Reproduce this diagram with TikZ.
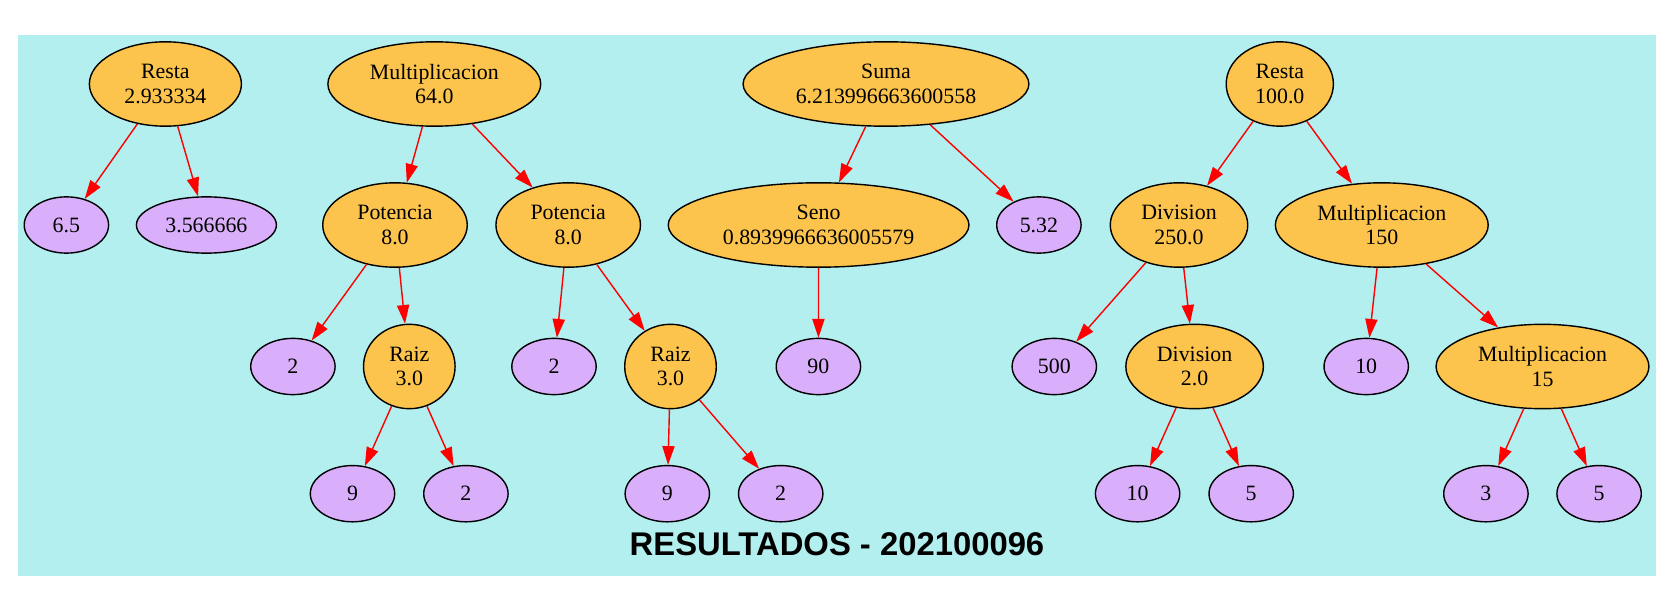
\documentclass[tikz,border=0pt]{standalone}
\usepackage{fontspec}
\setmainfont{Liberation Serif}
\newfontfamily\titlefont{Liberation Sans}
\usetikzlibrary{shapes.geometric,arrows.meta}
\definecolor{bgc}{HTML}{B3EFEF}
\definecolor{opc}{HTML}{FCC44C}
\definecolor{valc}{HTML}{D9AEFA}
\tikzset{
  nd/.style={ellipse, draw=black, line width=0.9pt, inner sep=0pt, align=center,
    font=\fontsize{14}{15.5}\selectfont},
  op/.style={nd, fill=opc, minimum height=54pt},
  val/.style={nd, fill=valc, minimum height=36pt, minimum width=54pt},
  ed/.style={draw=red, line width=0.9pt, -{Triangle[length=12pt,width=7.8pt]}}
}
\begin{document}
\begin{tikzpicture}[x=0.64pt,y=-0.64pt]
\useasboundingbox (0,0) rectangle (1673,601);
\fill[bgc] (17.9,35) rectangle (1656,576);
% row 0
\node[op, minimum width=97.3pt] (r1) at (165.4,84) {Resta\\2.933334};
\node[op, minimum width=136.2pt] (m64) at (434.3,84) {Multiplicacion\\64.0};
\node[op, minimum width=182.9pt] (suma) at (886,84) {Suma\\6.213996663600558};
\node[op, minimum width=68.6pt] (r2) at (1279.8,84) {Resta\\100.0};
% row 1
\node[val] (n65) at (66.4,225) {6.5};
\node[val, minimum width=89.6pt] (n3566) at (206.4,225) {3.566666};
\node[op, minimum width=92.5pt] (pot1) at (395,225) {Potencia\\8.0};
\node[op, minimum width=92.5pt] (pot2) at (568.2,225) {Potencia\\8.0};
\node[op, minimum width=192.5pt] (seno) at (818.6,225) {Seno\\0.8939966636005579};
\node[val] (n532) at (1038.9,225) {5.32};
\node[op, minimum width=88pt] (div250) at (1179,225) {Division\\250.0};
\node[op, minimum width=136.2pt] (m150) at (1381.8,225) {Multiplicacion\\150};
% row 2
\node[val] (n2a) at (292.9,366.5) {2};
\node[op, minimum width=58.6pt] (raiz1) at (409.3,366.5) {Raiz\\3.0};
\node[val] (n2b) at (554,366.5) {2};
\node[op, minimum width=58.6pt] (raiz2) at (670.5,366.5) {Raiz\\3.0};
\node[val] (n90) at (818.4,366.5) {90};
\node[val] (n500) at (1054.3,366.5) {500};
\node[op, minimum width=88pt] (div2) at (1194.6,366.5) {Division\\2.0};
\node[val] (n10a) at (1366.2,366.5) {10};
\node[op, minimum width=136.2pt] (m15) at (1542.5,366.5) {Multiplicacion\\15};
% row 3
\node[val] (n9a) at (352.5,493.7) {9};
\node[val] (n2c) at (465.9,493.7) {2};
\node[val] (n9b) at (667.3,493.7) {9};
\node[val] (n2d) at (780.7,493.7) {2};
\node[val] (n10b) at (1137.6,493.7) {10};
\node[val] (n5a) at (1251.2,493.7) {5};
\node[val] (n3) at (1485.9,493.7) {3};
\node[val] (n5b) at (1599.1,493.7) {5};
% title
\node[anchor=base, font=\titlefont\bfseries\fontsize{21}{25}\selectfont] (title) at (837,555) {RESULTADOS - 202100096};
% edges
\draw[ed] (r1) -- (n65);
\draw[ed] (r1) -- (n3566);
\draw[ed] (m64) -- (pot1);
\draw[ed] (m64) -- (pot2);
\draw[ed] (pot1) -- (n2a);
\draw[ed] (pot1) -- (raiz1);
\draw[ed] (raiz1) -- (n9a);
\draw[ed] (raiz1) -- (n2c);
\draw[ed] (pot2) -- (n2b);
\draw[ed] (pot2) -- (raiz2);
\draw[ed] (raiz2) -- (n9b);
\draw[ed] (raiz2) -- (n2d);
\draw[ed] (suma) -- (seno);
\draw[ed] (suma) -- (n532);
\draw[ed] (seno) -- (n90);
\draw[ed] (r2) -- (div250);
\draw[ed] (r2) -- (m150);
\draw[ed] (div250) -- (n500);
\draw[ed] (div250) -- (div2);
\draw[ed] (div2) -- (n10b);
\draw[ed] (div2) -- (n5a);
\draw[ed] (m150) -- (n10a);
\draw[ed] (m150) -- (m15);
\draw[ed] (m15) -- (n3);
\draw[ed] (m15) -- (n5b);
\end{tikzpicture}
\end{document}
